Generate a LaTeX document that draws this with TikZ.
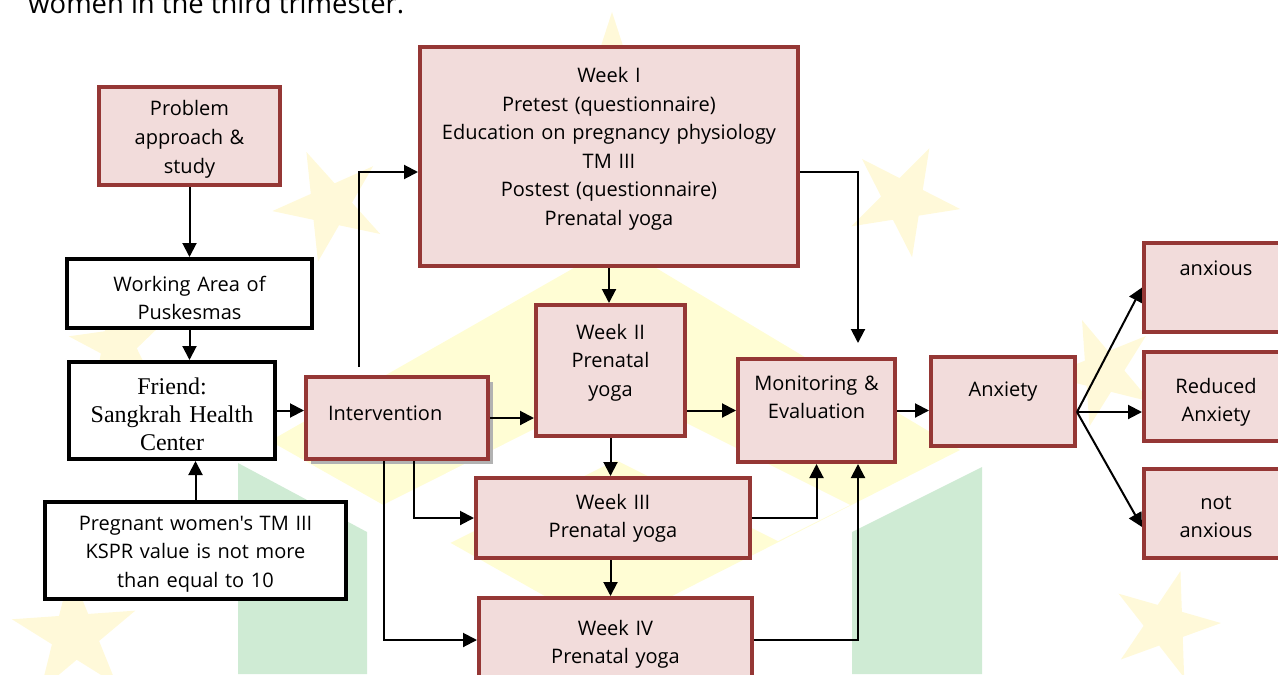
\documentclass[tikz,border=0pt]{standalone}
\usepackage{fontspec}
\setmainfont{Open Sans}[Ligatures=TeXOff]
\newfontfamily\serifbox{Liberation Serif}
\usepackage{xcolor}
\usetikzlibrary{arrows.meta,calc,shadows}

\definecolor{boxpink}{HTML}{F2DCDB}
\definecolor{boxred}{HTML}{953735}
\definecolor{wmyellow}{HTML}{FFFDD4}
\definecolor{wmstarcol}{HTML}{FFF9D9}
\definecolor{wmgreen}{HTML}{CFEBD4}

% faint star of the watermark: centre x, centre y, radius, angle of one point
\newcommand{\wmstar}[4]{%
  \fill[wmstarcol] ($(#1,#2)+(-#4:#3)$)
    \foreach \k [evaluate=\k as \rr using {mod(\k,2)==0 ? #3 : 0.382*#3}] in {1,...,9}
      { -- ($(#1,#2)+({-#4-36*\k}:\rr)$) } -- cycle;}

\tikzset{
  redbox/.style={draw=boxred, fill=boxpink, line width=2pt, inner sep=0pt,
    align=center, anchor=north west, font=\fontsize{10}{14.25}\selectfont},
  blackbox/.style={draw=black, fill=white, line width=2pt, inner sep=0pt,
    align=center, anchor=north west, font=\fontsize{10}{14.25}\selectfont},
  conn/.style={line width=1pt, -{Triangle[length=7pt,width=7pt]}},
}

\begin{document}
\begin{tikzpicture}[x=0.5pt,y=-0.5pt]
%\draw[help lines,step=50] (0,0) grid (1278,674);
\useasboundingbox (0,0) rectangle (1278,674);

% watermark
\fill[wmyellow] (270,441) -- (616,244) -- (960,450) -- (605,630) -- cycle;
\fill[white] (383,505) -- (616,388) -- (850,505) -- (778,541) -- (616,460) -- (446,545) -- cycle;
\fill[wmgreen] (238,463) -- (367,532) -- (367,674) -- (238,674) -- cycle;
\fill[wmgreen] (852,532) -- (982,467) -- (982,674) -- (852,674) -- cycle;
\wmstar{330}{205}{58}{42}
\wmstar{903}{200}{58}{63}
\wmstar{1165}{625}{56}{2}
\wmstar{1103}{372}{56}{40}
\wmstar{75}{635}{65}{166}
\wmstar{118}{345}{50}{170}
\wmstar{612}{75}{63}{90}

\node[anchor=base west, inner sep=0pt, font=\fontsize{13.7}{16}\selectfont] (caption) at (28,14) {women in the third trimester.};

% left column
\node[redbox, text width=90.5pt, text height=14.5pt, text depth=34.5pt] (prob) at (97,85) {Problem\\approach \&\\study};
\node[blackbox, text width=122.5pt, text height=16pt, text depth=18.5pt] (work) at (65,257) {Working Area of\\Puskesmas};
\node[blackbox, text width=103pt, text height=16pt, text depth=32.5pt, font=\serifbox\fontsize{12}{14}\selectfont] (friend) at (67,360) {Friend:\\Sangkrah Health\\Center};
\node[blackbox, text width=150.5pt, text height=14pt, text depth=34.5pt] (preg) at (43,500) {Pregnant women's TM III\\KSPR value is not more\\than equal to 10};

% intervention and weeks
\node[redbox, align=left, inner xsep=11pt, text width=69pt, text height=21.5pt, text depth=19.5pt,
  drop shadow={shadow xshift=2.5pt, shadow yshift=-2.5pt, fill=black!30, opacity=1}] (interv) at (304,375) {Intervention};
\node[redbox, text width=189pt, text height=18pt, text depth=91.5pt] (w1) at (418,45)
  {Week I\\Pretest (questionnaire)\\Education on pregnancy physiology\\TM III\\Postest (questionnaire)\\Prenatal yoga};
\node[redbox, text width=74.5pt, text height=17pt, text depth=48.5pt] (w2) at (534,303) {Week II\\Prenatal\\yoga};
\node[redbox, text width=137pt, text height=15.5pt, text depth=24.5pt] (w3) at (474,476) {Week III\\Prenatal yoga};
\node[redbox, text width=136.5pt, text height=18.5pt, text depth=23.5pt] (w4) at (477,596) {Week IV\\Prenatal yoga};

% evaluation and results
\node[redbox, text width=78.5pt, text height=15.5pt, text depth=36pt] (monit) at (736,357) {Monitoring \&\\Evaluation};
\node[redbox, text width=72pt, text height=19.5pt, text depth=25pt] (anx) at (929,355) {Anxiety};
\node[redbox, text width=72pt, text height=16pt, text depth=28.5pt] (out1) at (1142,241) {anxious};
\node[redbox, text width=72pt, text height=20.5pt, text depth=24pt] (out2) at (1142,350) {Reduced\\Anxiety};
\node[redbox, text width=72pt, text height=20pt, text depth=24.5pt] (out3) at (1142,467) {not\\anxious};

% connectors
\draw[conn] (prob) -- (work);
\draw[conn] (work.south) -- (work.south |- friend.north);
\draw[conn] (preg.north) -- (preg.north |- friend.south);
\draw[conn] (friend.east) -- (friend.east -| interv.west);
\draw[conn] (interv.east) -- (interv.east -| w2.west);
\draw[conn, shorten <=4pt] ([xshift=-19pt]interv.north) |- ([yshift=-7.75pt]w1.west);
\draw[conn] (w1.south) -- (w1.south |- w2.north);
\draw[conn, shorten >=7pt] ([yshift=-7.75pt]w1.east) -| ([xshift=20.75pt]monit.north);
\draw[conn] (w2.south) -- (w2.south |- w3.north);
\draw[conn] (w2.south |- w3.south) -- (w2.south |- w4.north);
\draw[conn] ([xshift=8.5pt]interv.south) |- (w3.west);
\draw[conn] ([xshift=-6.5pt]interv.south) |- (w4.west);
\draw[conn] (w2.east |- monit.west) -- (monit.west);
\draw[conn] (w3.east) -| (monit.south);
\draw[conn] (w4.east) -| ([xshift=20.75pt]monit.south);
\draw[conn] (monit.east) -- (monit.east -| anx.west);
\coordinate (fork) at ([yshift=-5.25pt]anx.east);
\draw[conn] (fork) -- (out1.west);
\draw[conn] (fork) -- (fork -| out2.west);
\draw[conn] (fork) -- ([yshift=-6.75pt]out3.west);
\end{tikzpicture}
\end{document}
